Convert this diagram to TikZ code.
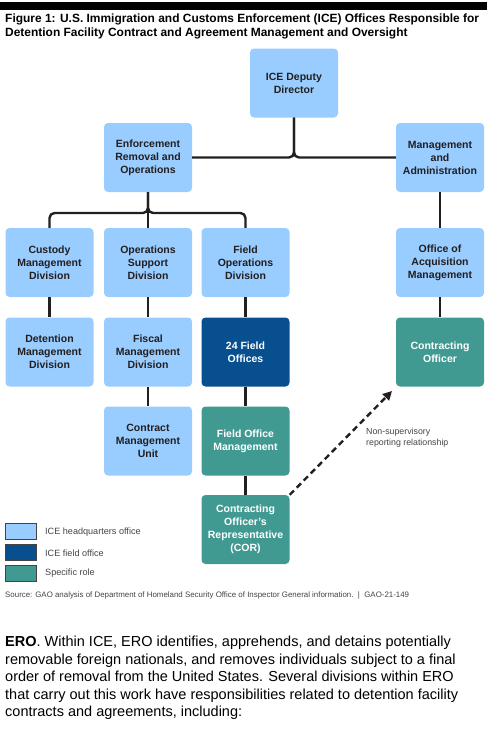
\documentclass[tikz,border=0pt]{standalone}
\usepackage{fontspec}
\setmainfont{Liberation Sans}
\usetikzlibrary{arrows.meta}
\definecolor{hq}{HTML}{99CCFF}
\definecolor{field}{HTML}{074F8E}
\definecolor{role}{HTML}{419A92}
\definecolor{conn}{HTML}{231F20}
\definecolor{txtgray}{HTML}{444444}
\begin{document}
\begin{tikzpicture}[x=1pt,y=-1pt,
  box/.style={rectangle, rounded corners=4pt, minimum width=88pt, minimum height=69pt,
    inner sep=1pt, align=center, font=\fontsize{10.5}{13}\selectfont\bfseries, text=conn},
  hqbox/.style={box, fill=hq},
  fieldbox/.style={box, fill=field, text=white},
  rolebox/.style={box, fill=role, text=white},
  link/.style={draw=conn, line width=2.4pt},
  legsq/.style={rectangle, draw=txtgray, line width=1pt, minimum width=31pt, minimum height=16pt, inner sep=0pt},
  legtxt/.style={anchor=west, font=\fontsize{9.1}{10}\selectfont, text=txtgray, inner sep=0pt}]
\useasboundingbox (0,0) rectangle (496,729);
\fill[black] (0,2) rectangle (487,9.5);
\node[anchor=north west, align=left, inner sep=0pt, font=\fontsize{11.95}{13.8}\selectfont\bfseries] (title) at (5,14)
  {Figure 1: U.S. Immigration and Customs Enforcement (ICE) Offices Responsible for\\Detention Facility Contract and Agreement Management and Oversight};

\node[hqbox] (dep) at (294,83) {ICE Deputy\\Director};
\node[hqbox] (ero) at (148,157.5) {Enforcement\\Removal and\\Operations};
\node[hqbox] (ma) at (440,157.5) {Management\\and\\Administration};
\node[hqbox] (cmd) at (49.5,262.5) {Custody\\Management\\Division};
\node[hqbox] (osd) at (148,262.5) {Operations\\Support\\Division};
\node[hqbox] (fod) at (245.5,262.5) {Field\\Operations\\Division};
\node[hqbox] (oam) at (440,262.5) {Office of\\Acquisition\\Management};
\node[hqbox] (dmd) at (49.5,352) {Detention\\Management\\Division};
\node[hqbox] (fmd) at (148,352) {Fiscal\\Management\\Division};
\node[fieldbox] (fo) at (245.5,352) {24 Field\\Offices};
\node[rolebox] (co) at (440,352) {Contracting\\Officer};
\node[hqbox] (cmu) at (148,441) {Contract\\Management\\Unit};
\node[rolebox] (fom) at (245.5,441) {Field Office\\Management};
\node[rolebox] (cor) at (245.5,529.5) {Contracting\\Officer's\\Representative\\(COR)};

% connectors
\draw[link, rounded corners=5pt] (ero.east) -| (dep.south);
\draw[link, rounded corners=5pt] (ma.west) -| (dep.south);
\draw[link, rounded corners=5pt] (cmd.north) |- (148,213) -- (ero.south);
\draw[link, rounded corners=5pt] (fod.north) |- (148,213) -- (ero.south);
\draw[link] (ero.south) -- (osd.north);
\draw[link] (ma.south) -- (oam.north);
\draw[link] (cmd.south) -- (dmd.north);
\draw[link] (osd.south) -- (fmd.north);
\draw[link] (fod.south) -- (fo.north);
\draw[link] (oam.south) -- (co.north);
\draw[link] (fmd.south) -- (cmu.north);
\draw[link] (fo.south) -- (fom.north);
\draw[link] (fom.south) -- (cor.north);
\coordinate (arrend) at (392,391);
\draw[link, dash pattern=on 6pt off 4pt, -{Triangle[length=9pt,width=9pt]}] (cor.north east) -- (arrend);
\node[anchor=west, align=left, inner sep=0pt, font=\fontsize{8.8}{11}\selectfont, text=txtgray] (nsr) at (366,437.5)
  {Non-supervisory\\reporting relationship};

% legend
\node[legsq, fill=hq] (l1) at (21,531.5) {};
\node[legsq, fill=field] (l2) at (21,552) {};
\node[legsq, fill=role] (l3) at (21,573) {};
\node[legtxt] (t1) at (45,532) {ICE headquarters office};
\node[legtxt] (t2) at (45,553) {ICE field office};
\node[legtxt] (t3) at (45,573) {Specific role};
\node[anchor=west, inner sep=0pt, font=\fontsize{7.9}{9}\selectfont, text=txtgray] (src) at (5,595)
  {Source: GAO analysis of Department of Homeland Security Office of Inspector General information.\ \ |\ \ GAO-21-149};

\node[anchor=north west, align=left, inner sep=0pt, font=\fontsize{14.5}{17.5}\selectfont] (para) at (5,636)
  {\textbf{ERO}. Within ICE, ERO identifies, apprehends, and detains potentially\\
removable foreign nationals, and removes individuals subject to a final\\
order of removal from the United States. Several divisions within ERO\\
that carry out this work have responsibilities related to detention facility\\
contracts and agreements, including:};
\end{tikzpicture}
\end{document}
